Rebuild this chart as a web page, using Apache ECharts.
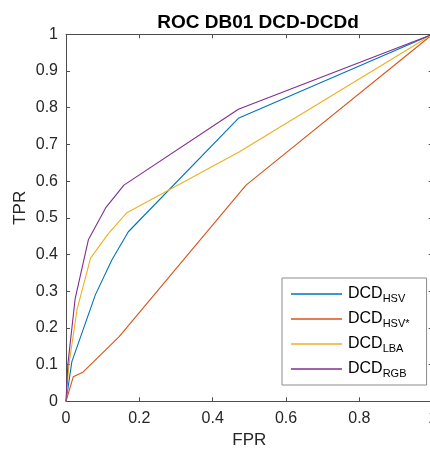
<!DOCTYPE html>
<html>
<head>
<meta charset="utf-8">
<script src="https://cdn.jsdelivr.net/npm/echarts@6/dist/echarts.min.js"></script>
<style>
html,body{margin:0;padding:0;background:#fff;overflow:hidden;width:430px;height:451px;}
#c{width:470px;height:451px;}
</style>
</head>
<body>
<div id="c"></div>
<script>
const titleText = 'ROC DB01 DCD-DCDd';
const seriesNames = ['HSV', 'HSV*', 'LBA', 'RGB'];
const fprHSV  = [0, 0.016, 0.08, 0.125, 0.17, 0.47, 1];
const tprHSV  = [0, 0.108, 0.29, 0.385, 0.462, 0.771, 1];
const fprHSVs = [0, 0.02, 0.047, 0.145, 0.491, 1];
const tprHSVs = [0, 0.067, 0.08, 0.176, 0.589, 1];
const fprLBA  = [0, 0.008, 0.03, 0.067, 0.115, 0.166, 0.473, 1];
const tprLBA  = [0, 0.1, 0.25, 0.39, 0.456, 0.514, 0.68, 1];
const fprRGB  = [0, 0.005, 0.025, 0.061, 0.108, 0.158, 0.47, 1];
const tprRGB  = [0, 0.1, 0.28, 0.44, 0.527, 0.589, 0.796, 1];
const colors = ['#0072BD', '#D95319', '#EDB120', '#7E2F8E'];

const xs = [fprHSV, fprHSVs, fprLBA, fprRGB];
const ys = [tprHSV, tprHSVs, tprLBA, tprRGB];
const zip = (a, b) => a.map((v, i) => [v, b[i]]);

const font = 'Liberation Sans, Arial, Helvetica, sans-serif';
const axisCol = '#4d4d4d';
const textCol = '#262626';

const chart = echarts.init(document.getElementById('c'), null, {renderer: 'canvas'});
const plotW = 366.7, plotH = 367;

const baseAxis = {
  min: 0, max: 1, interval: 0.2,
  axisLine: {show: true, onZero: false, lineStyle: {color: axisCol, width: 1}},
  axisTick: {show: true, inside: true, length: 4, lineStyle: {color: axisCol}},
  splitLine: {show: false}
};

chart.setOption({
  animation: false,
  backgroundColor: '#fff',
  title: {
    text: titleText, left: 253, top: 8, textAlign: 'center',
    textStyle: {fontFamily: font, fontSize: 19, fontWeight: 'bold', color: '#000'}
  },
  grid: {left: 66, top: 34.3, width: plotW, height: plotH, containLabel: false, outerBoundsMode: 'none'},
  xAxis: [
    Object.assign({}, baseAxis, {
      type: 'value', position: 'bottom',
      name: 'FPR', nameLocation: 'middle', nameGap: 31,
      nameTextStyle: {fontFamily: font, fontSize: 17, color: textCol},
      axisLabel: {fontFamily: font, fontSize: 16, color: textCol, margin: 9}
    }),
    Object.assign({}, baseAxis, {type: 'value', position: 'top', axisLabel: {show: false}})
  ],
  yAxis: [
    Object.assign({}, baseAxis, {
      type: 'value', position: 'left', interval: 0.1,
      name: 'TPR', nameLocation: 'middle', nameGap: 37, nameMoveOverlap: false,
      nameTextStyle: {fontFamily: font, fontSize: 17, color: textCol, padding: [0, 0, 0, 20]},
      axisLabel: {fontFamily: font, fontSize: 16, color: textCol, margin: 8,
        formatter: v => String(Math.round(v * 10) / 10)}
    }),
    Object.assign({}, baseAxis, {type: 'value', position: 'right', interval: 0.1, axisLabel: {show: false}})
  ],
  legend: {
    orient: 'vertical', left: 282, top: 278,
    padding: [6, 17, 6, 9],
    itemGap: 5,
    itemWidth: 51, itemHeight: 1.5,
    icon: 'rect',
    backgroundColor: '#fff',
    borderColor: '#8c8c8c', borderWidth: 1,
    data: seriesNames.map(n => ({name: n, icon: 'rect'})),
    formatter: n => '{a|DCD}{b|' + n + '}',
    textStyle: {
      fontFamily: font, color: '#000', padding: [0, 0, 0, 1],
      rich: {
        a: {fontFamily: font, fontSize: 16, color: '#000', lineHeight: 20},
        b: {fontFamily: font, fontSize: 11, color: '#000', padding: [9, 0, 0, 0], lineHeight: 20}
      }
    }
  },
  series: seriesNames.map((n, i) => ({
    name: n, type: 'line', data: zip(xs[i], ys[i]),
    showSymbol: false, symbol: 'none',
    lineStyle: {color: colors[i], width: 1.1},
    itemStyle: {color: colors[i]},
    clip: true
  }))
});
</script>
</body>
</html>
